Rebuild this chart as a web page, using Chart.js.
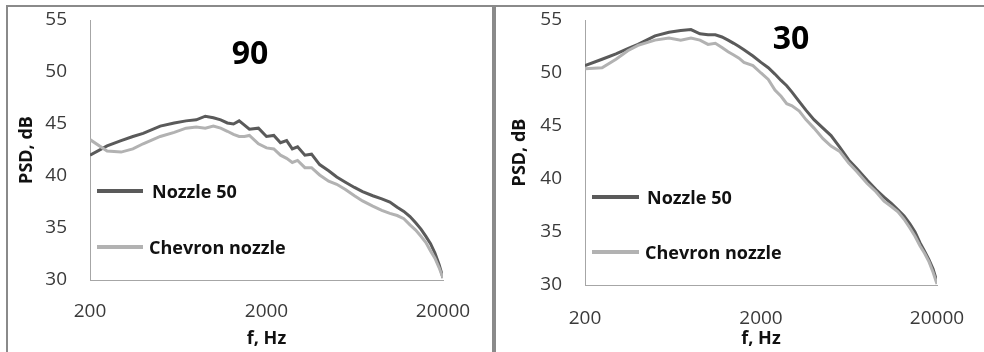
<!DOCTYPE html>
<html>
<head>
<meta charset="utf-8">
<script src="https://cdn.jsdelivr.net/npm/chart.js@4.4.1/dist/chart.umd.min.js"></script>
<style>
  body { margin: 0; background: #fff; }
  #wrap { position: relative; width: 984px; height: 352px; overflow: hidden; font-family: "Open Sans", sans-serif; }
  .panel { position: absolute; top: 5px; height: 400px; border-top: 2px solid #8a8a8a; border-left: 2px solid #8a8a8a; }
  .box { position: absolute; top: 0; height: 352px; }
  .num { position: absolute; font-weight: bold; font-size: 32px; color: #000; transform: translate(-50%, -50%); line-height: 32px; }
  .leg { position: absolute; font-weight: bold; font-size: 18px; color: #111; line-height: 20px; transform: translateY(-50%); white-space: nowrap; }
  .legline { position: absolute; height: 4px; transform: translateY(-50%); }
</style>
</head>
<body>
<div id="wrap">
  <div class="panel" style="left:6px; width:484px; border-right:2px solid #8a8a8a;"></div>
  <div class="panel" style="left:494px; width:500px;"></div>

  <div class="box" style="left:0; width:490px;"><canvas id="chart90"></canvas></div>
  <div class="box" style="left:493px; width:491px;"><canvas id="chart30"></canvas></div>

  <div class="num" style="left:250px; top:52px;">90</div>
  <div class="num" style="left:791px; top:37px;">30</div>

  <div class="legline" style="left:97px; top:191px; width:46px; background:#5a5a5a;"></div>
  <div class="leg" style="left:152px; top:191px;">Nozzle 50</div>
  <div class="legline" style="left:97px; top:247px; width:46px; background:#b2b2b2;"></div>
  <div class="leg" style="left:149px; top:247px;">Chevron nozzle</div>

  <div class="legline" style="left:592px; top:197px; width:47px; background:#5a5a5a;"></div>
  <div class="leg" style="left:647px; top:197px;">Nozzle 50</div>
  <div class="legline" style="left:592px; top:252px; width:47px; background:#b2b2b2;"></div>
  <div class="leg" style="left:645px; top:252px;">Chevron nozzle</div>
</div>

<script>
// frequency points (Hz), shared by both panels
var freqHz = [200, 250, 300, 350, 400, 500, 600, 700, 800, 900,
              1000, 1100, 1200, 1300, 1400, 1500, 1600, 1800, 2000, 2200,
              2400, 2600, 2800, 3000, 3300, 3600, 4000, 4500, 5000, 5600,
              6300, 7000, 8000, 9000, 10000, 11000, 12000, 13000, 14000, 15000,
              16000, 17000, 18000, 19000, 20000];

// angle 90
var nozzle90 = [42.0, 42.9, 43.4, 43.8, 44.1, 44.8, 45.1, 45.3, 45.4, 45.75,
                45.6, 45.4, 45.1, 45.0, 45.3, 44.9, 44.5, 44.6, 43.8, 43.9,
                43.2, 43.4, 42.6, 42.8, 42.0, 42.1, 41.1, 40.5, 39.9, 39.4,
                38.9, 38.5, 38.1, 37.8, 37.5, 37.0, 36.6, 36.1, 35.5, 34.9,
                34.2, 33.5, 32.6, 31.5, 30.2];
var chevron90 = [43.5, 42.4, 42.3, 42.6, 43.1, 43.8, 44.2, 44.6, 44.7, 44.6,
                 44.8, 44.6, 44.3, 44.0, 43.8, 43.8, 43.9, 43.1, 42.7, 42.6,
                 42.0, 41.7, 41.3, 41.5, 40.8, 40.8, 40.1, 39.5, 39.2, 38.7,
                 38.1, 37.6, 37.1, 36.7, 36.4, 36.2, 35.9, 35.3, 34.8, 34.2,
                 33.6, 32.8, 32.1, 31.2, 30.2];

// angle 30
var nozzle30 = [50.7, 51.3, 51.8, 52.3, 52.7, 53.5, 53.85, 54.0, 54.1, 53.7,
                53.6, 53.6, 53.4, 53.1, 52.8, 52.5, 52.2, 51.6, 51.0, 50.5,
                49.9, 49.3, 48.8, 48.2, 47.3, 46.5, 45.6, 44.8, 44.1, 43.0,
                41.8, 41.0, 39.9, 39.0, 38.3, 37.7, 37.1, 36.5, 35.8, 35.0,
                34.0, 33.2, 32.4, 31.5, 30.3];
var chevron30 = [50.4, 50.5, 51.3, 52.1, 52.6, 53.1, 53.3, 53.1, 53.3, 53.1,
                 52.7, 52.8, 52.4, 52.0, 51.7, 51.4, 51.0, 50.7, 50.0, 49.4,
                 48.4, 47.8, 47.1, 46.9, 46.4, 45.6, 44.8, 43.8, 43.1, 42.6,
                 41.5, 40.7, 39.6, 38.8, 37.9, 37.4, 36.9, 36.2, 35.4, 34.6,
                 33.7, 33.0, 32.2, 31.2, 30.1];

var xTicks = [200, 2000, 20000];
var yMin = 30, yMax = 55, yStep = 5;

function pts(vals) {
    var out = [];
    for (var i in freqHz) {
        out.push({ x: freqHz[i], y: vals[i] });
    }
    return out;
}

function makeChart(id, nozzle, chevron, lay)
{
    var ctx = document.getElementById(id);
    ctx.width = lay.w;
    ctx.height = 352;
    ctx.style.width = lay.w + 'px';
    ctx.style.height = '352px';

    var tickFont = { family: 'Open Sans', size: 19 };
    var titleFont = { family: 'Open Sans', size: 18, weight: 'bold' };

    return new Chart(ctx, {
        type: 'line',
        data: {
            datasets: [
                {
                    label: 'Nozzle 50',
                    data: pts(nozzle),
                    borderColor: '#5a5a5a',
                    borderWidth: 3,
                    pointRadius: 0,
                    tension: 0,
                    order: 1
                },
                {
                    label: 'Chevron nozzle',
                    data: pts(chevron),
                    borderColor: '#b2b2b2',
                    borderWidth: 3,
                    pointRadius: 0,
                    tension: 0,
                    order: 0
                }
            ]
        },
        options: {
            responsive: false,
            animation: false,
            events: [],
            layout: {
                autoPadding: false,
                padding: { left: 0, right: lay.w - lay.right, top: lay.top, bottom: 0 }
            },
            plugins: { legend: { display: false }, tooltip: { enabled: false } },
            scales: {
                x: {
                    type: 'logarithmic',
                    min: 200,
                    max: 20000,
                    afterBuildTicks: function (scale) {
                        scale.ticks = xTicks.map(function (v) { return { value: v }; });
                    },
                    afterFit: function (scale) {
                        scale.height = 352 - lay.bottom;
                        scale.paddingLeft = 0;
                        scale.paddingRight = 0;
                    },
                    grid: { display: true, drawOnChartArea: false, drawTicks: false },
                    border: { display: true, color: '#a6a6a6', width: 1 },
                    ticks: {
                        autoSkip: false,
                        maxRotation: 0,
                        padding: lay.tickPadX,
                        color: '#3a3a3a',
                        font: tickFont,
                        callback: function (v) { return String(v); }
                    },
                    title: {
                        display: true,
                        text: 'f, Hz',
                        color: '#111',
                        font: titleFont,
                        padding: { top: 0, bottom: lay.titlePadX }
                    }
                },
                y: {
                    min: yMin,
                    max: yMax,
                    afterFit: function (scale) {
                        scale.width = lay.left;
                        scale.paddingTop = 0;
                        scale.paddingBottom = 0;
                    },
                    grid: { display: true, drawOnChartArea: false, drawTicks: false },
                    border: { display: true, color: '#a6a6a6', width: 1 },
                    ticks: {
                        stepSize: yStep,
                        padding: 23,
                        color: '#3a3a3a',
                        font: tickFont
                    },
                    title: {
                        display: true,
                        text: 'PSD, dB',
                        color: '#111',
                        font: titleFont,
                        padding: { top: lay.titlePadY, bottom: 0 }
                    }
                }
            }
        }
    });
}

makeChart('chart90', nozzle90, chevron90,
    { w: 490, left: 90, right: 443, top: 20, bottom: 280, tickPadX: 20, titlePadX: 2, titlePadY: 16 });
makeChart('chart30', nozzle30, chevron30,
    { w: 491, left: 92, right: 444, top: 20, bottom: 285, tickPadX: 22, titlePadX: 2, titlePadY: 16 });
</script>
</body>
</html>
